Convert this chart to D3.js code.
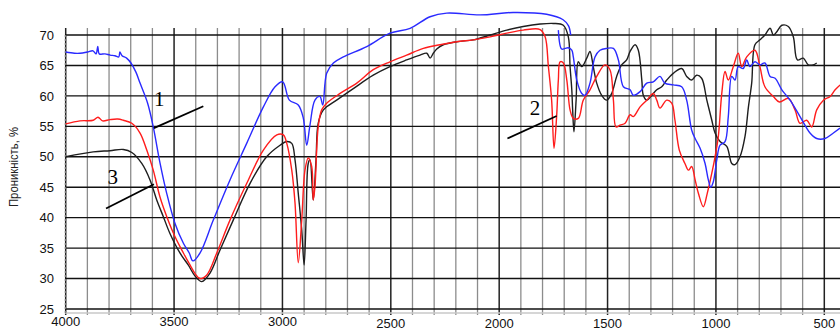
<!DOCTYPE html>
<html><head><meta charset="utf-8">
<script src="https://cdn.jsdelivr.net/npm/d3@7"></script>
<style>html,body{margin:0;padding:0;background:#fff;overflow:hidden}</style>
</head><body><svg id="chart" width="840" height="331"></svg>
<script>
// wavenumber (cm-1), transmittance (%)
const curve1 = [[4000,67.2],[3960,67.0],[3934,67.0],[3900,67.2],[3874,67.4],[3860,66.9],[3852,68.1],[3845,66.9],[3819,66.9],[3795,66.7],[3773,66.6],[3755,66.4],[3750,67.2],[3740,66.6],[3719,66.2],[3699,65.4],[3676,63.9],[3657,62.1],[3622,58.8],[3596,54.9],[3565,49.0],[3534,44.0],[3496,39.1],[3457,35.8],[3430,34.2],[3413,32.9],[3380,34.2],[3319,39.6],[3242,46.2],[3165,52.2],[3088,58.2],[3034,61.5],[2999,62.3],[2968,59.3],[2927,58.5],[2904,56.4],[2888,51.9],[2873,55.2],[2850,59.3],[2827,59.9],[2814,58.5],[2796,63.7],[2765,65.4],[2719,66.4],[2611,68.1],[2504,70.3],[2411,71.1],[2319,73.0],[2242,73.6],[2088,73.3],[1936,73.7],[1781,73.4],[1705,72.5],[1680,71.5],[1670,70.0],[null,null],[1727,70.8],[1712,67.7],[1696,67.8],[1681,67.9],[1665,67.5],[1658,66.4],[1642,62.6],[1619,60.4],[1604,60.1],[1581,62.1],[1558,66.4],[1535,67.5],[1504,67.8],[1473,67.8],[1450,65.9],[1427,61.5],[1396,61.0],[1381,60.1],[1350,60.7],[1319,62.1],[1289,62.3],[1258,63.2],[1236,62.1],[1197,61.8],[1158,61.5],[1135,59.3],[1112,54.4],[1096,53.0],[1073,51.4],[1050,48.9],[1035,46.2],[1024,45.0],[1012,45.9],[996,49.5],[981,51.9],[958,52.5],[943,56.6],[927,63.2],[912,62.6],[897,64.8],[874,64.5],[858,65.9],[843,64.8],[820,65.6],[797,65.1],[774,65.4],[750,63.2],[727,62.9],[696,61.0],[658,59.3],[612,56.6],[566,53.9],[535,53.0],[497,53.0],[458,53.9],[427,54.7]];
const curve2 = [[4000,55.4],[3934,55.9],[3873,56.0],[3851,56.5],[3830,55.9],[3796,56.1],[3760,56.2],[3734,56.0],[3695,55.5],[3657,53.9],[3626,51.1],[3596,47.8],[3565,43.4],[3534,40.2],[3496,36.9],[3457,34.2],[3426,32.2],[3403,30.8],[3380,30.0],[3349,30.6],[3303,34.2],[3242,39.6],[3165,45.6],[3088,51.1],[3026,53.6],[2996,53.6],[2980,52.2],[2957,47.8],[2942,42.4],[2927,32.6],[2911,39.6],[2896,47.8],[2881,49.8],[2865,48.4],[2858,42.9],[2850,45.1],[2835,54.9],[2819,57.7],[2796,58.8],[2734,60.4],[2657,62.1],[2581,64.3],[2504,65.6],[2427,66.7],[2350,67.8],[2273,68.4],[2196,68.9],[2119,69.2],[2042,69.7],[1965,70.3],[1889,70.8],[1811,70.9],[1788,69.7],[1773,64.8],[1758,59.3],[1747,51.4],[1735,56.6],[1727,62.6],[1719,65.6],[1704,65.4],[1688,62.6],[1673,57.7],[1658,56.3],[1635,56.3],[1612,59.3],[1581,61.0],[1550,63.2],[1512,65.1],[1489,64.3],[1473,59.3],[1461,54.9],[1442,55.2],[1419,55.5],[1396,56.9],[1381,56.6],[1350,58.2],[1319,59.3],[1289,60.4],[1273,59.3],[1258,58.0],[1227,59.3],[1204,58.8],[1189,56.0],[1169,51.1],[1143,48.9],[1127,47.8],[1112,48.4],[1096,46.2],[1081,44.0],[1058,41.8],[1040,44.0],[1019,47.3],[1004,50.0],[989,53.3],[973,60.4],[958,64.0],[943,62.6],[920,64.8],[897,67.0],[881,64.8],[858,66.4],[820,67.5],[797,64.8],[774,61.5],[735,59.9],[707,59.0],[666,59.6],[635,57.7],[612,55.5],[581,56.0],[558,54.9],[535,57.7],[504,59.3],[473,59.9],[450,61.0],[427,61.8]];
const curve3 = [[4000,50.0],[3873,50.8],[3796,51.0],[3734,51.2],[3695,50.7],[3649,48.9],[3611,46.2],[3580,42.9],[3550,40.2],[3519,37.4],[3473,34.2],[3434,32.2],[3403,30.4],[3372,29.5],[3334,30.9],[3288,34.7],[3227,39.6],[3150,45.6],[3073,50.0],[3011,51.9],[2980,52.5],[2957,52.2],[2942,49.5],[2927,44.0],[2911,38.0],[2900,32.2],[2891,39.6],[2881,48.9],[2873,49.5],[2858,42.9],[2845,49.5],[2835,55.5],[2811,57.7],[2750,59.3],[2673,61.2],[2581,63.4],[2504,64.8],[2427,65.9],[2365,66.7],[2334,67.0],[2319,66.2],[2304,67.0],[2288,67.7],[2258,68.4],[2196,68.9],[2119,69.2],[2042,70.0],[1965,70.8],[1889,71.4],[1811,71.8],[1750,71.9],[1704,71.6],[1681,69.7],[1673,64.8],[1665,61.0],[1661,57.7],[1655,54.1],[1645,59.3],[1635,65.6],[1619,64.8],[1596,66.2],[1581,67.3],[1566,64.8],[1550,62.1],[1527,60.1],[1504,59.3],[1481,60.4],[1458,63.2],[1435,65.1],[1412,65.9],[1396,67.3],[1373,68.4],[1358,67.5],[1342,62.6],[1335,60.1],[1319,59.3],[1296,60.1],[1273,61.0],[1250,61.5],[1227,62.6],[1197,63.7],[1158,64.5],[1135,63.2],[1112,62.6],[1089,63.4],[1066,62.9],[1042,59.3],[1019,56.0],[1004,53.9],[981,52.5],[950,51.7],[927,48.9],[912,48.7],[889,50.0],[866,53.3],[850,58.2],[835,62.1],[820,68.4],[797,69.2],[774,70.0],[750,71.1],[735,70.0],[720,70.5],[696,71.6],[666,71.4],[643,69.7],[624,65.9],[597,66.2],[574,65.1],[551,65.1],[535,65.4]];
const yTicks = [25,30,35,40,45,50,55,60,65,70];
const xTicks = [4000,3500,3000,2500,2000,1500,1000,500];
const yTitle = "Проникність, %";
const labels = [{t:"1",w:3568,v:59.6,from:[3593,54.7],to:[3365,58.3]},
                {t:"2",w:1835,v:58.1,from:[1962,53.0],to:[1735,56.7]},
                {t:"3",w:3783,v:46.8,from:[3814,41.5],to:[3593,45.5]}];

const svg = d3.select("#chart");
const x = d3.scaleLinear().domain([4000,500]).range([65.7,824.3]);
const y = d3.scaleLinear().domain([25,70]).range([309,35]);

const g = svg.append("g");
// vertical grid
const vlines = d3.range(4000, 400, -100);
g.selectAll("line.v").data(vlines).join("line")
  .attr("x1", d=>x(d)).attr("x2", d=>x(d)).attr("y1", 28).attr("y2", 315)
  .attr("stroke", d=> d%500===0 ? "#222" : "#8c8c8c")
  .attr("stroke-width", d=> d%500===0 ? 1.5 : 1.3);
// bottom light line
g.append("line").attr("x1",65).attr("x2",840).attr("y1",313).attr("y2",313).attr("stroke","#c8c8c8").attr("stroke-width",1.5);
// horizontal grid
g.selectAll("line.h").data(yTicks).join("line")
  .attr("x1", 65).attr("x2", 840).attr("y1", d=>y(d)).attr("y2", d=>y(d))
  .attr("stroke", "#111").attr("stroke-width", 1.4);
// left dotted axis
g.append("line").attr("x1",65.5).attr("x2",65.5).attr("y1",35).attr("y2",315)
  .attr("stroke","#777").attr("stroke-width",1.5).attr("stroke-dasharray","2,2");

// y tick labels
svg.selectAll("text.yt").data(yTicks).join("text")
  .attr("x", 54).attr("y", d=>y(d)).attr("dy","0.36em")
  .attr("text-anchor","end").attr("font-family","Liberation Sans, Arial, sans-serif")
  .attr("font-size",13).attr("fill","#111").text(d=>d);
// x tick labels
svg.selectAll("text.xt").data(xTicks).join("text")
  .attr("x", d=>x(d)).attr("y", d=> d>=3000 ? 326 : 327.5)
  .attr("text-anchor","middle").attr("font-family","Liberation Sans, Arial, sans-serif")
  .attr("font-size",13).attr("fill","#111").text(d=>d);
// y title
svg.append("text").attr("transform","translate(18,167) rotate(-90)")
  .attr("text-anchor","middle").attr("font-family","Liberation Sans Narrow, Liberation Sans, Arial, sans-serif")
  .attr("font-size",13).attr("fill","#222")
  .attr("textLength",80).attr("lengthAdjust","spacingAndGlyphs").text(yTitle);

// curves
const line = d3.line().defined(d=>d[0]!=null).x(d=>x(d[0])).y(d=>y(d[1]))
  .curve(d3.curveCatmullRom.alpha(0.5));
const series = [{d:curve3,c:"#1e1e1e"},{d:curve2,c:"#ff1c1c"},{d:curve1,c:"#2a2aff"}];
svg.selectAll("path.s").data(series).join("path")
  .attr("d", s=>line(s.d)).attr("fill","none").attr("stroke", s=>s.c)
  .attr("stroke-width",1.4).attr("stroke-linejoin","round");

// annotations
svg.selectAll("line.a").data(labels).join("line")
  .attr("x1", d=>x(d.from[0])).attr("y1", d=>y(d.from[1]))
  .attr("x2", d=>x(d.to[0])).attr("y2", d=>y(d.to[1]))
  .attr("stroke","#000").attr("stroke-width",1.8);
svg.selectAll("text.a").data(labels).join("text")
  .attr("x", d=>x(d.w)).attr("y", d=>y(d.v)).attr("dy","0.35em")
  .attr("text-anchor","middle").attr("font-family","Liberation Serif, Times New Roman, serif")
  .attr("font-size",21).attr("fill","#000").text(d=>d.t);
</script></body></html>
